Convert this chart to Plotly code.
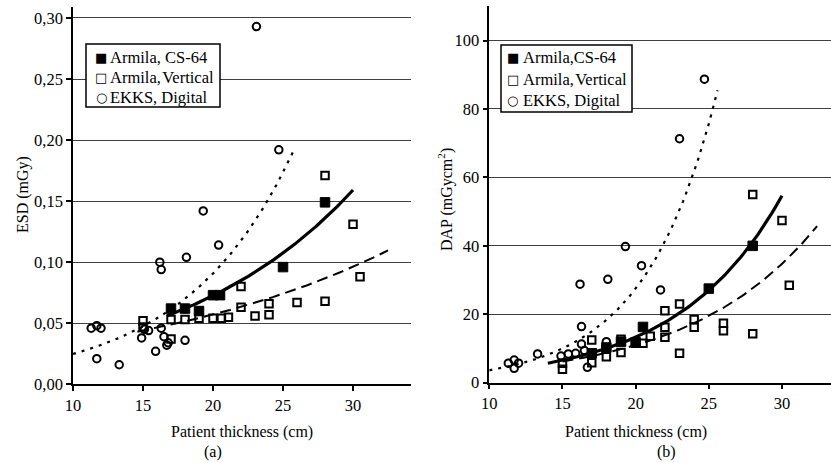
import numpy as np
import plotly.graph_objects as go

# ---------------- data: panel (a) ESD ----------------
a_cs64_x = [17, 18, 19, 20, 20.5, 25, 28]
a_cs64_y = [0.062, 0.062, 0.060, 0.073, 0.073, 0.096, 0.149]

a_vert_x = [15, 15, 17, 17, 18, 19, 20, 20.6, 21.1, 22, 22, 23, 24, 24, 26, 28, 28, 30, 30.5]
a_vert_y = [0.052, 0.047, 0.053, 0.037, 0.053, 0.054, 0.054, 0.054, 0.055, 0.063, 0.080,
            0.056, 0.066, 0.057, 0.067, 0.068, 0.171, 0.131, 0.088]

a_ekks_x = [11.3, 11.7, 12.0, 11.7, 13.3, 14.9, 15.1, 15.4, 15.9, 16.2, 16.3, 16.3, 16.5,
            16.7, 16.8, 18.0, 18.1, 19.3, 20.4, 23.1, 24.7]
a_ekks_y = [0.046, 0.048, 0.046, 0.021, 0.016, 0.038, 0.045, 0.044, 0.027, 0.100, 0.094,
            0.046, 0.039, 0.032, 0.034, 0.036, 0.104, 0.142, 0.114, 0.293, 0.192]

# exponential trendlines y = A*exp(B*x), with drawn x-extent
a_trend_A = {"cs64": 0.0151, "vert": 0.0201, "ekks": 0.00678}
a_trend_B = {"cs64": 0.0785, "vert": 0.0522, "ekks": 0.1297}
a_trend_x = {"cs64": (16.7, 30.0), "vert": (14.6, 32.5), "ekks": (10.0, 25.7)}

# ---------------- data: panel (b) DAP ----------------
b_cs64_x = [17, 18, 19, 20, 20.5, 25, 28]
b_cs64_y = [8.6, 10.3, 12.0, 11.8, 16.3, 27.5, 40.0]

b_vert_x = [15, 15, 17, 17, 18, 18, 19, 19, 20, 20.5, 21, 22, 22, 22, 23, 23, 24, 24,
            26, 26, 28, 28, 30, 30.5]
b_vert_y = [3.9, 5.7, 12.5, 5.8, 7.6, 10.0, 12.7, 8.8, 11.5, 11.5, 13.6, 21.0, 16.2, 13.3,
            23.0, 8.6, 18.5, 16.2, 17.4, 15.2, 55.0, 14.3, 47.4, 28.5]

b_ekks_x = [11.3, 11.7, 12.0, 11.7, 13.3, 14.9, 15.4, 15.9, 16.2, 16.3, 16.3, 16.5, 16.7,
            18.0, 18.1, 19.3, 20.4, 21.7, 23.0, 24.7]
b_ekks_y = [5.7, 6.6, 5.7, 4.2, 8.4, 7.8, 8.4, 8.6, 28.8, 16.4, 11.3, 9.4, 4.5,
            12.0, 30.2, 39.8, 34.2, 27.1, 71.3, 88.7]

b_trend_A = {"cs64": 0.788, "vert": 1.099, "ekks": 0.478}
b_trend_B = {"cs64": 0.1413, "vert": 0.1151, "ekks": 0.2026}
b_trend_x = {"cs64": (14.0, 30.0), "vert": (15.0, 32.4), "ekks": (10.0, 25.6)}

a_names = ["Armila, CS-64", "Armila,\u200AVertical", "EKKS, Digital"]
b_names = ["Armila,CS-64", "Armila,\u200AVertical", "EKKS, Digital"]
legend_glyphs = ["\u25A0", "\u25A1", "<b>\u25CB</b>"]

a_yticks = [0, 0.05, 0.10, 0.15, 0.20, 0.25, 0.30]
b_yticks = [0, 20, 40, 60, 80, 100]
x_ticks = [10, 15, 20, 25, 30]

FONT = "Liberation Serif, Times New Roman, Times, DejaVu Serif, serif"
W, H = 831, 463

fig = go.Figure()

line_styles = {
    "cs64": dict(color="black", width=3.2),
    "vert": dict(color="black", width=2, dash="11px,6px"),
    "ekks": dict(color="black", width=2.2, dash="3px,6px"),
}

def add_panel(xa, ya, names, cs_x, cs_y, v_x, v_y, e_x, e_y, tA, tB, tx):
    for key in ["vert", "ekks", "cs64"]:
        x0, x1 = tx[key]
        xs = np.linspace(x0, x1, 120)
        ys = tA[key] * np.exp(tB[key] * xs)
        fig.add_trace(go.Scatter(x=xs, y=ys, mode="lines", line=line_styles[key],
                                 showlegend=False, xaxis=xa, yaxis=ya, hoverinfo="skip"))
    fig.add_trace(go.Scatter(x=cs_x, y=cs_y, mode="markers", name=names[0], showlegend=False,
                             marker=dict(symbol="square", size=9.5, color="black",
                                         line=dict(color="black", width=1)),
                             xaxis=xa, yaxis=ya))
    fig.add_trace(go.Scatter(x=v_x, y=v_y, mode="markers", name=names[1], showlegend=False,
                             marker=dict(symbol="square-open", size=7.5, color="black",
                                         line=dict(color="black", width=2)),
                             xaxis=xa, yaxis=ya))
    fig.add_trace(go.Scatter(x=e_x, y=e_y, mode="markers", name=names[2], showlegend=False,
                             marker=dict(symbol="circle-open", size=7.5, color="black",
                                         line=dict(color="black", width=2)),
                             xaxis=xa, yaxis=ya))

add_panel("x", "y", a_names, a_cs64_x, a_cs64_y, a_vert_x, a_vert_y,
          a_ekks_x, a_ekks_y, a_trend_A, a_trend_B, a_trend_x)
add_panel("x2", "y2", b_names, b_cs64_x, b_cs64_y, b_vert_x, b_vert_y,
          b_ekks_x, b_ekks_y, b_trend_A, b_trend_B, b_trend_x)

axis_common = dict(showline=True, linecolor="black", linewidth=1.5, ticks="outside",
                   ticklen=5, tickwidth=1.5, tickcolor="black", automargin=False,
                   tickfont=dict(family=FONT, size=16.5, color="black"), zeroline=False,
                   fixedrange=True)

fig.update_layout(
    width=W, height=H,
    margin=dict(l=0, r=0, t=0, b=0),
    paper_bgcolor="white", plot_bgcolor="white",
    separators=", ",
    font=dict(family=FONT, size=16, color="black"),
    showlegend=False,
    xaxis=dict(domain=[73 / W, 411 / W], range=[10, 34.14], tickvals=x_ticks,
               showgrid=False, anchor="y", **axis_common),
    yaxis=dict(domain=[(H - 384.3) / H, (H - 7) / H], range=[0, 0.309],
               tickvals=a_yticks, tickformat=".2f", showgrid=True,
               gridcolor="#404040", gridwidth=1.4, anchor="x", **axis_common),
    xaxis2=dict(domain=[489.3 / W, 1.0], range=[10, 33.35], tickvals=x_ticks,
                showgrid=False, anchor="y2", **axis_common),
    yaxis2=dict(domain=[(H - 382.7) / H, (H - 6) / H], range=[0, 110.1],
                tickvals=b_yticks, showgrid=True, gridcolor="#404040", gridwidth=1.4,
                anchor="x2", **axis_common),
)

ann = dict(showarrow=False, xref="paper", yref="paper",
           font=dict(family=FONT, size=16, color="black"))
leg_font = dict(family=FONT, size=16.5, color="black")
glyph_font = dict(family="DejaVu Sans", size=13, color="black")

def add_legend(box, glyph_x, text_x, rows_y, names):
    x0, y0, x1, y1 = box
    fig.add_shape(type="rect", xref="paper", yref="paper", x0=x0 / W, x1=x1 / W,
                  y0=(H - y1) / H, y1=(H - y0) / H, line=dict(color="black", width=1.5),
                  fillcolor="white", layer="above")
    for g, n, ry in zip(legend_glyphs, names, rows_y):
        fig.add_annotation(text=g, x=glyph_x / W, y=(H - ry) / H, xanchor="center",
                           yanchor="middle", showarrow=False, xref="paper", yref="paper",
                           font=glyph_font)
        fig.add_annotation(text=n, x=text_x / W, y=(H - ry) / H, xanchor="left",
                           yanchor="middle", showarrow=False, xref="paper", yref="paper",
                           font=leg_font)

add_legend((86, 44, 220, 107), 101, 107.5, (57.5, 77.5, 97), a_names)
add_legend((501, 45, 632, 112), 512.5, 521, (58, 79, 100), b_names)

fig.add_annotation(text="Patient thickness (cm)", x=242 / W, y=(H - 432) / H,
                   xanchor="center", yanchor="middle", **ann)
fig.add_annotation(text="(a)", x=213 / W, y=(H - 452) / H, xanchor="center", yanchor="middle", **ann)
fig.add_annotation(text="Patient thickness (cm)", x=636 / W, y=(H - 432) / H,
                   xanchor="center", yanchor="middle", **ann)
fig.add_annotation(text="(b)", x=666 / W, y=(H - 452) / H, xanchor="center", yanchor="middle", **ann)
fig.add_annotation(text="ESD (mGy)", x=23 / W, y=(H - 195) / H, textangle=-90,
                   xanchor="center", yanchor="middle", **ann)
fig.add_annotation(text="DAP (mGycm<sup>2</sup>)", x=445 / W, y=(H - 200) / H, textangle=-90,
                   xanchor="center", yanchor="middle", **ann)

fig.write_html("out.html", config={"displayModeBar": False},
               post_script="document.body.style.margin='0';")
